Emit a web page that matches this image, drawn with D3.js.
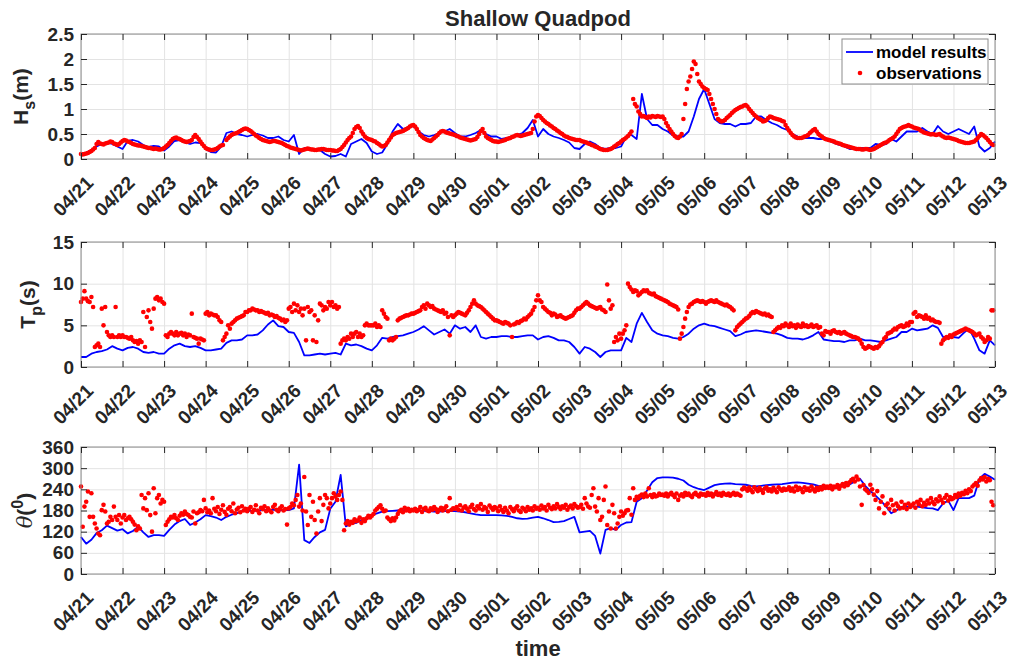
<!DOCTYPE html>
<html lang="en">
<head>
  <meta charset="utf-8">
  <title>Shallow Quadpod</title>
  <style>
    body { margin: 0; background: #fff; }
    svg { display: block; font-family: "Liberation Sans", Arial, Helvetica, sans-serif; }
    .tick text { fill: #262626; font-size: 19px; font-weight: bold; font-family: "Liberation Sans", Arial, sans-serif; }
    .grid line { stroke: #e3e3e3; }
    .grid path, .ticks path { display: none; }
    .ticks line { stroke: #262626; }
    .lbl { fill: #262626; font-weight: bold; }
  </style>
</head>
<body>
  <div id="chart"></div>

  <script src="https://cdn.jsdelivr.net/npm/d3@7"></script>
  <script>
    // time window and sampling (hours)
    var start = Date.UTC(2019, 3, 21), end = Date.UTC(2019, 4, 13);
    var modelStep = 3, obsStep = 1;

    var hsTicks = [0, 0.5, 1, 1.5, 2, 2.5];
    var tpTicks = [0, 5, 10, 15];
    var dirTicks = [0, 60, 120, 180, 240, 300, 360];

    // significant wave height (m), model every 3 h, one row per day
    var modelHs = [
      0.10, 0.13, 0.18, 0.25, 0.30, 0.33, 0.30, 0.25,
      0.20, 0.36, 0.38, 0.35, 0.28, 0.24, 0.26, 0.25,
      0.17, 0.25, 0.36, 0.38, 0.33, 0.30, 0.33, 0.32,
      0.20, 0.14, 0.13, 0.25, 0.52, 0.55, 0.50, 0.48,
      0.45, 0.48, 0.50, 0.47, 0.42, 0.42, 0.45, 0.38,
      0.35, 0.48, 0.10, 0.22, 0.18, 0.20, 0.18, 0.10,
      0.05, 0.06, 0.10, 0.05, 0.30, 0.35, 0.40, 0.32,
      0.15, 0.10, 0.13, 0.30, 0.55, 0.70, 0.60, 0.62,
      0.66, 0.55, 0.48, 0.45, 0.48, 0.52, 0.55, 0.60,
      0.52, 0.45, 0.45, 0.48, 0.52, 0.58, 0.50, 0.45,
      0.45, 0.40, 0.42, 0.45, 0.48, 0.52, 0.62, 0.78,
      0.45, 0.60, 0.50, 0.45, 0.42, 0.38, 0.33, 0.22,
      0.20, 0.30, 0.35, 0.30, 0.22, 0.20, 0.22, 0.22,
      0.25, 0.45, 0.48, 0.40, 1.30, 0.80, 0.68, 0.68,
      0.60, 0.55, 0.47, 0.45, 0.45, 0.55, 0.85, 1.20,
      1.40, 1.10, 0.80, 0.72, 0.70, 0.70, 0.65, 0.70,
      0.70, 0.72, 0.85, 0.85, 0.78, 0.72, 0.68, 0.62,
      0.58, 0.50, 0.45, 0.42, 0.42, 0.42, 0.40, 0.40,
      0.37, 0.32, 0.28, 0.25, 0.20, 0.20, 0.22, 0.22,
      0.22, 0.30, 0.28, 0.30, 0.40, 0.35, 0.45, 0.55,
      0.55, 0.55, 0.62, 0.55, 0.50, 0.66, 0.55, 0.50,
      0.55, 0.60, 0.55, 0.50, 0.65, 0.25, 0.15, 0.22,
      0.35
    ];

    // observations every hour, one row per day (null = no data)
    var obsHs = [
      0.10, 0.09, 0.10, 0.11, 0.12, 0.14, 0.16, 0.19, 0.22, 0.30, 0.34, 0.31, 0.30, 0.29, 0.31, 0.32, 0.33, 0.35, 0.34, 0.31, 0.30, 0.28, 0.30, 0.33,
      0.36, 0.38, 0.37, 0.35, 0.34, 0.32, 0.30, 0.29, 0.28, 0.27, 0.27, 0.26, 0.25, 0.24, 0.23, 0.22, 0.22, 0.21, 0.20, 0.21, 0.20, 0.19, 0.19, 0.20,
      0.22, 0.25, 0.28, 0.32, 0.36, 0.40, 0.42, 0.43, 0.41, 0.40, 0.38, 0.36, 0.35, 0.34, 0.35, 0.36, 0.38, 0.44, 0.48, 0.44, 0.40, 0.35, 0.30, 0.26,
      0.22, 0.20, 0.19, 0.18, 0.18, 0.19, 0.20, 0.22, 0.25, 0.27, 0.28, null, 0.38, 0.42, 0.45, 0.48, 0.50, 0.51, 0.52, 0.54, 0.56, 0.58, 0.60, 0.61,
      0.60, 0.58, 0.56, 0.53, 0.50, 0.47, 0.45, 0.42, 0.40, 0.38, 0.37, 0.36, 0.35, 0.34, 0.35, 0.36, 0.36, 0.35, 0.34, 0.33, 0.32, 0.30, 0.28, 0.26,
      0.25, 0.23, 0.22, 0.21, 0.20, 0.19, 0.18, 0.17, 0.18, 0.19, 0.20, 0.21, 0.20, 0.19, 0.19, 0.18, 0.18, 0.19, 0.19, 0.20, 0.20, 0.19, 0.18, 0.18,
      0.18, 0.17, 0.17, 0.16, 0.16, 0.18, 0.20, 0.24, 0.28, 0.33, 0.38, 0.42, 0.45, 0.52, 0.60, 0.64, 0.66, 0.62, 0.55, 0.50, 0.45, 0.42, 0.40, 0.39,
      0.38, 0.36, 0.35, 0.32, 0.30, 0.27, 0.25, 0.26, 0.28, 0.33, 0.38, 0.43, 0.48, 0.50, 0.52, 0.53, 0.54, 0.55, 0.56, 0.58, 0.60, 0.62, 0.65, 0.67,
      0.68, 0.65, 0.60, 0.54, 0.48, 0.45, 0.42, 0.40, 0.38, 0.37, 0.36, 0.39, 0.42, 0.45, 0.48, 0.52, 0.55, 0.56, 0.55, 0.53, 0.52, 0.51, 0.50, 0.49,
      0.48, 0.46, 0.45, 0.43, 0.42, 0.41, 0.40, 0.39, 0.38, 0.37, 0.38, 0.39, 0.40, 0.44, 0.50, 0.56, 0.60, 0.52, 0.45, 0.42, 0.40, 0.38, 0.36, 0.35,
      0.35, 0.34, 0.35, 0.36, 0.37, 0.38, 0.40, 0.41, 0.42, 0.44, 0.45, 0.47, 0.48, 0.47, 0.46, 0.47, 0.48, 0.49, 0.50, 0.51, 0.52, 0.60, 0.75, 0.85,
      0.88, 0.86, 0.82, 0.78, 0.75, 0.72, 0.70, 0.67, 0.65, 0.62, 0.60, 0.57, 0.55, 0.52, 0.50, 0.47, 0.45, 0.44, 0.42, 0.41, 0.40, 0.39, 0.38, 0.38,
      0.38, 0.36, 0.35, 0.34, 0.33, 0.31, 0.30, 0.28, 0.27, 0.25, 0.24, 0.22, 0.20, 0.19, 0.18, 0.18, 0.18, 0.19, 0.20, 0.22, 0.25, 0.27, 0.30, 0.32,
      0.35, 0.38, 0.40, 0.43, 0.46, 0.50, 0.55, 1.20, 1.10, 1.05, 0.95, 0.90, 0.85, 0.86, 0.84, 0.82, 0.85, 0.83, 0.86, 0.85, 0.84, 0.86, 0.85, 0.84,
      0.85, 0.80, 0.72, 0.66, 0.60, 0.55, 0.50, 0.46, 0.43, 0.42, 0.45, 0.50, 0.80, 1.10, 1.40, 1.55, 1.65, 1.80, 1.95, 1.90, 1.70, 1.55, 1.50, 1.45,
      1.42, 1.40, 1.38, 1.30, 1.20, 1.10, 1.00, 0.90, 0.80, 0.77, 0.75, 0.76, 0.78, 0.82, 0.85, 0.88, 0.92, 0.95, 0.98, 1.00, 1.02, 1.04, 1.05, 1.07,
      1.08, 1.05, 1.00, 0.96, 0.92, 0.88, 0.85, 0.82, 0.80, 0.78, 0.75, 0.76, 0.78, 0.82, 0.85, 0.84, 0.82, 0.81, 0.80, 0.79, 0.78, 0.76, 0.75, 0.68,
      0.62, 0.57, 0.52, 0.48, 0.45, 0.43, 0.42, 0.42, 0.42, 0.43, 0.45, 0.46, 0.48, 0.52, 0.55, 0.58, 0.60, 0.55, 0.50, 0.47, 0.45, 0.42, 0.40, 0.39,
      0.38, 0.37, 0.36, 0.35, 0.33, 0.32, 0.31, 0.30, 0.28, 0.27, 0.26, 0.25, 0.24, 0.23, 0.22, 0.21, 0.20, 0.20, 0.20, 0.19, 0.19, 0.20, 0.20, 0.19,
      0.18, 0.19, 0.20, 0.22, 0.24, 0.26, 0.28, 0.30, 0.32, 0.33, 0.35, 0.38, 0.40, 0.42, 0.45, 0.50, 0.55, 0.60, 0.62, 0.64, 0.65, 0.66, 0.68, 0.66,
      0.65, 0.63, 0.62, 0.61, 0.60, 0.57, 0.55, 0.53, 0.52, 0.51, 0.50, 0.49, 0.50, 0.49, 0.48, 0.49, 0.50, 0.47, 0.45, 0.43, 0.42, 0.43, 0.42, 0.41,
      0.40, 0.39, 0.38, 0.36, 0.35, 0.34, 0.33, 0.32, 0.32, 0.32, 0.33, 0.34, 0.35, 0.38, 0.42, 0.46, 0.50, 0.48, 0.45, 0.42, 0.38, 0.34, 0.30, 0.28
    ];

    // peak period (s)
    var modelTp = [
      1.2, 1.2, 1.6, 1.8, 1.9, 2.1, 2.5, 2.2,
      2.0, 2.3, 2.4, 2.2, 1.8, 1.7, 1.8, 1.6,
      1.6, 2.2, 2.6, 2.8, 2.5, 2.4, 2.5, 2.3,
      2.0, 2.0, 2.1, 2.2, 2.9, 3.2, 3.2, 3.3,
      3.8, 3.8, 3.9, 4.4, 5.1, 5.6, 4.9, 4.8,
      4.2, 4.1, 3.0, 1.4, 1.4, 1.5, 1.6, 1.5,
      1.6, 1.7, 1.5, 2.8, 2.6, 2.7, 2.5, 2.2,
      2.0, 2.6, 3.5, 3.4, 3.6, 3.7, 3.8, 4.0,
      4.2, 4.5, 4.9, 4.4, 3.9, 4.2, 4.5, 4.0,
      5.0, 4.6, 4.8, 4.2, 5.0, 3.6, 3.4, 3.6,
      3.6, 3.7, 3.7, 3.6, 3.6, 3.7, 3.8, 3.8,
      3.3, 3.6, 3.7, 3.5, 3.2, 3.2, 3.0, 2.4,
      1.6, 2.4, 2.2, 1.8, 1.2, 1.8, 2.0, 2.0,
      2.0, 3.5, 3.0, 5.2, 6.5, 5.4, 4.4, 4.0,
      3.8, 3.7, 3.5, 3.4, 3.6, 4.0, 4.6, 5.0,
      5.2, 5.0, 4.9, 4.7, 4.5, 4.3, 3.7, 3.9,
      4.2, 4.3, 4.4, 4.3, 4.2, 4.1, 4.0, 3.8,
      3.5, 3.4, 3.4, 3.3, 3.5, 3.8, 4.2, 3.3,
      3.2, 3.1, 3.1, 3.0, 3.2, 3.2, 3.4, 3.2,
      3.2, 3.1, 3.0, 3.2, 3.4, 3.6, 4.2, 4.2,
      4.6, 4.4, 4.5, 4.6, 5.0, 4.7, 3.6, 3.6,
      3.6, 3.5, 4.1, 4.6, 3.4, 2.0, 1.6, 3.2,
      2.6
    ];

    var obsTp = [
      7.8, 8.2, 9.1, 8.2, 7.9, 7.8, 8.4, 7.2, 2.4, 2.6, 2.8, 2.4, 7.0, 5.0, 7.2, 4.2, 3.8, 3.6, 3.8, 3.6, 7.2, 3.6, 3.8, 3.6,
      3.8, 3.6, 3.6, 3.5, 3.4, 3.6, 3.2, 3.0, 3.1, 2.8, 3.2, 3.0, 6.6, 2.4, 6.0, 6.8, 5.4, 4.6, 7.0, 8.2, 8.4, 8.0, 8.2, 7.8,
      7.6, 3.8, 3.6, 4.0, 4.2, 4.0, 3.8, 4.2, 3.8, 4.0, 4.1, 3.8, 4.0, 3.6, 3.9, 3.8, 6.4, 3.6, 3.5, 3.4, 2.8, 3.4, 3.3, 3.2,
      6.4, 6.6, 6.2, 6.4, 6.3, 6.2, 6.2, 6.0, 5.6, 5.4, 3.2, 3.6, 4.0, 5.0, 4.6, 5.2, 5.4, 5.6, 5.8, 5.9, 6.0, 6.1, 6.2, 6.6,
      6.6, 6.8, 6.8, 7.0, 6.9, 6.8, 6.8, 6.6, 6.7, 6.6, 6.5, 6.4, 6.5, 6.2, 6.3, 6.2, 6.0, 6.1, 5.9, 5.8, 5.6, 5.7, 5.4, 5.6,
      7.0, 7.2, 6.6, 7.6, 6.8, 7.4, 6.6, 7.0, 6.2, 7.0, 3.2, 7.2, 6.6, 6.8, 3.2, 6.2, 3.0, 5.6, 7.6, 7.4, 6.8, 7.2, 7.0, 7.8,
      7.4, 7.8, 7.2, 7.4, 7.0, 7.2, 2.8, 3.2, 3.4, 3.2, 3.6, 3.4, 4.0, 3.6, 4.0, 4.2, 3.6, 4.0, 3.6, 3.8, 5.0, 5.2, 5.0, 5.0,
      5.0, 5.0, 5.2, 4.8, 5.0, 4.8, 6.8, 6.4, 6.0, 5.8, 3.2, 3.4, 3.2, 3.4, 3.6, 5.6, 5.8, 5.9, 6.0, 6.1, 6.2, 6.2, 6.3, 6.4,
      6.4, 6.5, 6.6, 6.7, 6.8, 7.2, 7.4, 7.0, 7.6, 7.4, 7.2, 7.3, 7.0, 6.9, 6.8, 6.7, 6.6, 6.8, 6.4, 6.5, 6.0, 3.8, 6.2, 6.0,
      6.2, 6.4, 6.6, 6.5, 6.4, 6.3, 6.2, 6.5, 6.8, 7.2, 7.6, 8.0, 7.6, 7.4, 7.3, 7.2, 7.0, 6.8, 6.6, 6.4, 6.2, 6.0, 5.8, 5.6,
      5.6, 5.5, 5.4, 5.3, 5.2, 5.4, 5.3, 5.2, 5.0, 3.6, 5.1, 5.2, 5.4, 5.3, 5.5, 5.6, 5.8, 5.7, 6.0, 6.2, 6.4, 6.8, 7.2, 8.0,
      8.6, 8.0, 7.8, 7.2, 7.0, 6.8, 6.6, 6.5, 6.2, 6.4, 6.3, 6.0, 6.1, 6.2, 6.0, 5.9, 5.8, 5.9, 6.0, 6.1, 6.2, 6.5, 6.8, 7.0,
      7.0, 7.2, 7.4, 7.6, 7.8, 7.6, 7.4, 7.3, 7.2, 7.1, 7.0, 7.1, 7.2, 6.9, 6.8, 6.6, 9.9, 8.0, 7.0, 7.4, 3.0, 3.6, 3.2, 4.0,
      3.4, 4.0, 4.4, 5.0, 10.0, 9.6, 9.3, 9.0, 9.2, 9.1, 8.6, 8.8, 9.0, 9.2, 9.1, 9.2, 8.9, 8.8, 8.7, 8.8, 8.5, 8.4, 8.3, 8.2,
      8.1, 8.0, 7.9, 7.8, 7.6, 7.5, 7.4, 7.3, 7.2, 6.9, 3.4, 4.0, 4.8, 5.8, 6.6, 7.2, 7.5, 7.6, 7.8, 7.9, 8.0, 7.9, 7.8, 7.9,
      7.8, 7.6, 7.8, 7.9, 8.0, 7.9, 7.8, 8.0, 7.8, 7.7, 7.6, 7.5, 7.4, 7.5, 7.3, 7.2, 7.0, 6.8, 4.4, 4.8, 5.0, 5.2, 5.4, 5.6,
      5.8, 5.9, 6.1, 6.4, 6.6, 6.5, 6.7, 6.6, 6.5, 6.4, 6.3, 6.4, 6.2, 6.3, 6.1, 6.0, 4.2, 4.4, 4.6, 4.8, 4.7, 5.0, 4.9, 5.2,
      5.0, 4.8, 5.2, 4.9, 5.0, 4.7, 5.1, 4.9, 4.8, 5.2, 4.9, 5.0, 4.8, 4.9, 5.1, 4.8, 4.9, 5.0, 4.7, 4.8, 4.0, 3.8, 4.3, 4.2,
      4.2, 4.0, 4.3, 4.4, 4.2, 4.1, 4.2, 4.0, 4.1, 4.2, 4.0, 3.9, 3.8, 3.7, 3.6, 3.6, 3.5, 3.4, 3.2, 2.8, 2.4, 2.2, 2.3, 2.5,
      2.4, 2.3, 2.2, 2.4, 2.3, 2.5, 2.8, 3.0, 3.4, 3.6, 4.0, 4.1, 4.2, 4.4, 4.6, 4.5, 4.8, 4.9, 5.0, 4.8, 4.9, 5.2, 5.0, 5.4,
      5.4, 6.4, 6.6, 6.0, 6.2, 6.1, 6.0, 5.8, 6.2, 5.8, 5.9, 5.6, 5.7, 5.5, 5.4, 5.4, 5.3, 2.8, 3.2, 3.4, 3.6, 3.5, 3.8, 3.6,
      3.9, 4.0, 4.1, 4.2, 4.3, 4.4, 4.5, 4.6, 4.5, 4.4, 4.3, 4.2, 4.0, 3.8, 3.9, 4.0, 3.6, 3.4, 3.0, 3.2, 3.6, 3.4, 6.8, 6.8
    ];

    // wave direction (deg)
    var modelDir = [
      105, 86, 97, 116, 124, 137, 130, 123,
      127, 115, 122, 134, 118, 105, 110, 110,
      108, 125, 140, 150, 156, 139, 146, 155,
      167, 164, 160, 153, 162, 168, 172, 178,
      180, 179, 180, 181, 182, 182, 181, 181,
      181, 186, 310, 96, 88, 105, 118, 125,
      185, 205, 281, 135, 143, 145, 153, 160,
      167, 172, 177, 178, 179, 180, 181, 180,
      181, 180, 179, 178, 177, 177, 178, 178,
      178, 177, 175, 172, 169, 167, 167, 167,
      167, 166, 165, 162, 158, 156, 157, 160,
      162, 158, 153, 147, 148, 150, 156, 162,
      118, 120, 122, 108, 58, 125, 130, 125,
      139, 146, 147, 205, 215, 237, 260, 272,
      274, 274, 273, 270, 265, 253, 246, 241,
      238, 245, 252, 255, 256, 257, 255, 254,
      253, 250, 248, 250, 252, 253, 254, 255,
      257, 259, 260, 258, 256, 254, 250, 248,
      248, 248, 248, 249, 254, 262, 270, 250,
      235, 222, 208, 192, 172, 180, 190, 191,
      191, 191, 189, 187, 186, 181, 200, 208,
      181, 215, 215, 215, 222, 270, 284, 276,
      267
    ];

    var obsDir = [
      248, 134, 191, 205, 234, 162, 229, 162, 143, 129, 115, 110, 181, 196, 177, 143, 148, 162, 153, 191, 162, 153, 167, 143,
      160, 167, 153, 158, 162, 155, 148, 140, 124, 135, 129, 224, 186, 215, 181, 229, 167, 120, 243, 172, 215, 224, 200, 210,
      205, 139, 148, 155, 162, 160, 167, 158, 153, 165, 172, 168, 177, 170, 167, 162, 160, 177, 143, 172, 175, 181, 178, 210,
      186, 175, 180, 172, 215, 185, 178, 190, 170, 182, 195, 176, 168, 185, 190, 178, 200, 172, 183, 188, 175, 192, 180, 185,
      178, 185, 190, 176, 182, 195, 180, 172, 188, 184, 192, 178, 186, 180, 175, 190, 196, 182, 178, 186, 192, 180, 184, 140,
      186, 190, 200, 195, 210, 224, 191, 200, 180, 275, 177, 139, 224, 162, 205, 153, 115, 177, 215, 150, 196, 224, 215, 186,
      200, 215, 229, 220, 210, 224, 234, 210, 124, 143, 150, 140, 148, 145, 155, 150, 152, 160, 145, 155, 150, 158, 165, 160,
      165, 170, 180, 185, 190, 195, 185, 178, 180, 160, 155, 150, 158, 152, 160, 170, 178, 182, 175, 188, 180, 185, 178, 182,
      180, 185, 178, 182, 190, 176, 184, 188, 180, 178, 186, 182, 190, 184, 176, 182, 188, 180, 186, 192, 178, 215, 182, 186,
      185, 190, 182, 195, 180, 188, 192, 185, 178, 190, 196, 184, 180, 192, 186, 198, 182, 190, 186, 176, 194, 188, 182, 190,
      186, 178, 192, 182, 176, 188, 180, 172, 190, 184, 178, 186, 192, 180, 176, 188, 184, 178, 190, 182, 186, 180, 192, 185,
      188, 182, 194, 186, 190, 180, 196, 188, 184, 192, 186, 198, 190, 184, 192, 188, 196, 182, 190, 194, 186, 198, 192, 188,
      190, 196, 185, 215, 200, 191, 188, 224, 243, 191, 177, 215, 153, 162, 210, 248, 139, 177, 129, 196, 172, 129, 143, 162,
      177, 165, 172, 180, 181, 215, 168, 243, 210, 219, 215, 222, 225, 218, 228, 220, 243, 224, 218, 226, 220, 222, 228, 224,
      225, 222, 228, 220, 226, 230, 224, 218, 228, 210, 222, 226, 220, 230, 224, 228, 222, 218, 226, 230, 224, 220, 228, 225,
      226, 222, 230, 224, 228, 220, 226, 232, 224, 228, 222, 230, 226, 224, 228, 222, 226, 230, 224, 228, 225, 222, 240, 245,
      242, 236, 245, 238, 232, 246, 240, 235, 244, 238, 230, 242, 246, 236, 240, 234, 244, 238, 232, 246, 240, 236, 242, 238,
      240, 246, 236, 242, 234, 248, 238, 244, 240, 232, 246, 238, 242, 236, 248, 240, 234, 244, 238, 246, 240, 250, 244, 248,
      244, 250, 240, 248, 246, 252, 242, 250, 255, 248, 258, 252, 260, 266, 270, 262, 276, 268, 248, 196, 252, 240, 236, 230,
      253, 240, 225, 210, 235, 186, 205, 220, 172, 195, 200, 185, 210, 195, 180, 200, 192, 186, 205, 188, 196, 184, 200, 190,
      195, 200, 188, 205, 198, 210, 192, 202, 196, 208, 200, 215, 204, 198, 212, 206, 220, 210, 202, 216, 224, 208, 218, 212,
      215, 224, 218, 228, 222, 230, 226, 236, 229, 240, 235, 248, 253, 258, 250, 265, 272, 268, 275, 262, 270, 266, 205, 195
    ];

    var width = 1010, height = 661;
    var left = 81, right = 995;

    var svg = d3.select("#chart").append("svg")
                .attr("width", width)
                .attr("height", height);

    var x = d3.scaleUtc()
              .domain([new Date(start), new Date(end)])
              .range([left, right]);

    var days = d3.utcDay.range(new Date(start), new Date(end + 1));
    var hour = 3600 * 1000;
    function modelTime(i) { return new Date(start + i * modelStep * hour); }
    function obsTime(i) { return new Date(start + i * obsStep * hour); }

    var panels = [
      { top: 34, bottom: 159, domain: [0, 2.5], ticks: hsTicks, model: modelHs, obs: obsHs, labelX: 28 },
      { top: 242, bottom: 367, domain: [0, 15], ticks: tpTicks, model: modelTp, obs: obsTp, labelX: 35 },
      { top: 447, bottom: 574, domain: [0, 360], ticks: dirTicks, model: modelDir, obs: obsDir, labelX: 32 }
    ];

    panels.forEach(function(p, i) {
      var y = d3.scaleLinear().domain(p.domain).range([p.bottom, p.top]);
      var g = svg.append("g");
      var h = p.bottom - p.top;

      // grid
      g.append("g").attr("class", "grid")
        .attr("transform", "translate(0," + p.bottom + ")")
        .call(d3.axisBottom(x).tickValues(days).tickSize(-h).tickFormat(""));
      g.append("g").attr("class", "grid")
        .attr("transform", "translate(" + left + ",0)")
        .call(d3.axisLeft(y).tickValues(p.ticks).tickSize(-(right - left)).tickFormat(""));

      // model line
      g.append("path")
        .datum(p.model)
        .attr("fill", "none")
        .attr("stroke", "#0000ff")
        .attr("stroke-width", 1.8)
        .attr("stroke-linejoin", "round")
        .attr("d", d3.line()
          .x(function(d, k) { return x(modelTime(k)); })
          .y(function(d) { return y(d); }));

      // observations
      var pts = p.obs.map(function(v, k) { return { t: obsTime(k), v: v }; })
                     .filter(function(d) { return d.v !== null; });
      g.append("g").selectAll("circle")
        .data(pts)
        .enter().append("circle")
        .attr("cx", function(d) { return x(d.t); })
        .attr("cy", function(d) { return y(d.v); })
        .attr("r", 2.3)
        .attr("fill", "#ff0000");

      // frame
      g.append("rect")
        .attr("x", left).attr("y", p.top)
        .attr("width", right - left).attr("height", h)
        .attr("fill", "none").attr("stroke", "#8c8c8c");

      // inward ticks on all four sides
      var xb = g.append("g").attr("class", "ticks")
        .attr("transform", "translate(0," + p.bottom + ")")
        .call(d3.axisBottom(x).tickValues(days).tickSize(-6).tickFormat(d3.utcFormat("%m/%d")));
      xb.selectAll("text")
        .attr("y", 0).attr("dy", null)
        .attr("text-anchor", "end")
        .attr("transform", "translate(13,25) rotate(-45)");

      g.append("g").attr("class", "ticks")
        .attr("transform", "translate(0," + p.top + ")")
        .call(d3.axisTop(x).tickValues(days).tickSize(-6).tickFormat(""));

      g.append("g").attr("class", "ticks")
        .attr("transform", "translate(" + left + ",0)")
        .call(d3.axisLeft(y).tickValues(p.ticks).tickSize(-6).tickPadding(7).tickFormat(d3.format("")));

      g.append("g").attr("class", "ticks")
        .attr("transform", "translate(" + right + ",0)")
        .call(d3.axisRight(y).tickValues(p.ticks).tickSize(-6).tickFormat(""));

      // y label
      var lab = svg.append("text")
        .attr("class", "lbl")
        .attr("text-anchor", "middle")
        .attr("font-size", 21)
        .attr("transform", "translate(" + p.labelX + "," + (p.top + h / 2) + ") rotate(-90)");
      if (i === 0) {
        lab.append("tspan").text("H");
        lab.append("tspan").attr("font-size", 16).attr("dy", 7).text("s");
        lab.append("tspan").attr("dy", -7).text("(m)");
      } else if (i === 1) {
        lab.append("tspan").text("T");
        lab.append("tspan").attr("font-size", 16).attr("dy", 7).text("p");
        lab.append("tspan").attr("dy", -7).text("(s)");
      } else {
        lab.append("tspan").attr("font-style", "italic").attr("font-weight", "normal")
          .attr("font-family", "'DejaVu Serif', serif").text("θ");
        lab.append("tspan").text("(");
        lab.append("tspan").attr("font-size", 16).attr("dy", -9).text("0");
        lab.append("tspan").attr("dy", 9).text(")");
      }
    });

    // title and x label
    svg.append("text").attr("class", "lbl")
      .attr("x", 538).attr("y", 26)
      .attr("text-anchor", "middle").attr("font-size", 22)
      .text("Shallow Quadpod");

    svg.append("text").attr("class", "lbl")
      .attr("x", 538).attr("y", 656)
      .attr("text-anchor", "middle").attr("font-size", 22)
      .text("time");

    // legend
    var lg = svg.append("g").attr("transform", "translate(842,39)");
    lg.append("rect").attr("width", 146).attr("height", 45)
      .attr("fill", "#fff").attr("stroke", "#8c8c8c");
    lg.append("line").attr("x1", 4).attr("x2", 31).attr("y1", 13).attr("y2", 13)
      .attr("stroke", "#0000ff").attr("stroke-width", 1.8);
    lg.append("circle").attr("cx", 18).attr("cy", 34).attr("r", 2.3).attr("fill", "#ff0000");
    lg.append("text").attr("x", 34).attr("y", 19).attr("font-size", 17).attr("font-weight", "bold")
      .attr("fill", "#000").text("model results");
    lg.append("text").attr("x", 34).attr("y", 40).attr("font-size", 17).attr("font-weight", "bold")
      .attr("fill", "#000").text("observations");
  </script>
</body>
</html>
